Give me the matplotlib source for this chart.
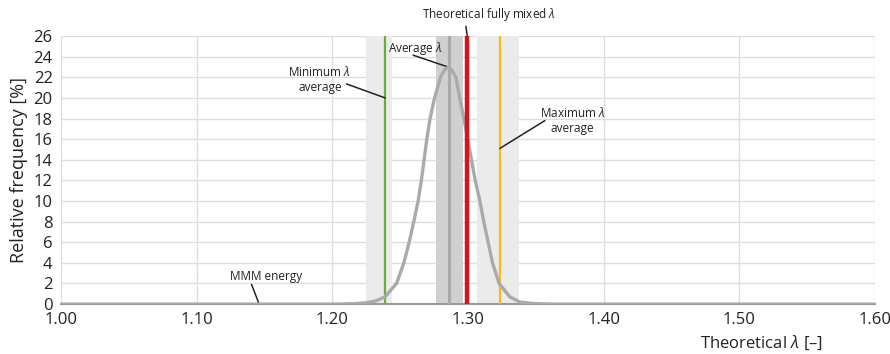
import numpy as np
import matplotlib
matplotlib.use("Agg")
import matplotlib.pyplot as plt
from matplotlib.ticker import FormatStrFormatter

plt.rcParams['font.family'] = ['Open Sans', 'DejaVu Sans']
plt.rcParams['mathtext.fontset'] = 'custom'
plt.rcParams['mathtext.rm'] = 'Open Sans'
plt.rcParams['mathtext.it'] = 'Open Sans:italic'

# distribution
lam = [1.00, 1.205, 1.218, 1.226, 1.232, 1.2388, 1.2474, 1.2528, 1.2567, 1.2601,
       1.2633, 1.2657, 1.2677, 1.2697, 1.2721, 1.2754, 1.2798, 1.2826, 1.2854,
       1.2882, 1.2911, 1.2940, 1.2970, 1.2999, 1.3026, 1.3054, 1.3088, 1.3117,
       1.3149, 1.3181, 1.3230, 1.3309, 1.3383, 1.348, 1.362, 1.60]
freq = [0, 0, 0.05, 0.15, 0.3, 0.7, 2, 4, 6, 8,
        10, 12, 14, 16, 18, 20, 22, 22.7, 23.0,
        22.7, 22, 20, 18, 16, 14, 12, 10, 8,
        6, 4, 2, 0.7, 0.2, 0.05, 0, 0]

# marker lines and bands
lam_min, band_min = 1.2390, (1.2246, 1.2440)
lam_avg, band_avg = 1.2859, (1.2768, 1.2964)
lam_mix = 1.2995
lam_max, band_max = 1.3235, (1.3070, 1.3375)

yticks = list(range(0, 27, 2))
xticks = [1.00, 1.10, 1.20, 1.30, 1.40, 1.50, 1.60]

fig = plt.figure(figsize=(8.9, 3.54), dpi=100)
ax = fig.add_axes([0.0685, 0.141, 0.9145, 0.757])

ax.axvspan(*band_min, color='#ebebeb', lw=0, zorder=1)
ax.axvspan(*band_avg, color='#d0d0d0', lw=0, zorder=1)
ax.axvspan(*band_max, color='#ebebeb', lw=0, zorder=1)

ax.axvline(lam_min, color='#6aad3d', lw=1.6, zorder=3)
ax.axvline(lam_avg, color='#a9a9a9', lw=2.2, zorder=3)
ax.axvline(lam_max, color='#f8bb12', lw=1.6, zorder=3)
ax.plot(lam, freq, color='#aaaaaa', lw=2.4, zorder=4, solid_joinstyle='round')
ax.axvline(lam_mix, color='#d7141a', lw=3.2, zorder=5)

ax.set_xlim(1.0, 1.6)
ax.set_ylim(0, 26)
ax.set_xticks(xticks)
ax.set_yticks(yticks)
ax.xaxis.set_major_formatter(FormatStrFormatter('%.2f'))
ax.tick_params(axis='both', length=0, labelsize=12, colors='#222222', pad=6)
ax.grid(True, color='#dedede', lw=1, zorder=0)
ax.set_axisbelow(True)
for s in ['top', 'right', 'left']:
    ax.spines[s].set_visible(False)
ax.spines['bottom'].set_color('#999999')
ax.spines['bottom'].set_linewidth(1.5)

ax.set_ylabel('Relative frequency [%]', fontsize=13, color='#222222', labelpad=4)
ax.set_xlabel(r'Theoretical $\lambda$ [–]', fontsize=12, color='#222222')
ax.xaxis.set_label_coords(0.861, -0.146)
ax.xaxis.label.set_verticalalignment('center')

arrow = dict(arrowstyle='-', color='#222222', lw=1.1, shrinkA=0, shrinkB=0)
ann = dict(fontsize=8.5, color='#222222', ha='center', va='center',
           annotation_clip=False)
ax.annotate(r'Theoretical fully mixed $\lambda$', xy=(1.3154, 28.05), **ann)
ax.annotate('', xy=(lam_mix, 26), xytext=(1.2985, 26.95), arrowprops=arrow, annotation_clip=False)
ax.annotate(r'Average $\lambda$', xy=(1.2611, 24.75), **ann)
ax.annotate('', xy=(lam_avg - 0.0005, 23.0), xytext=(1.2596, 24.15), arrowprops=arrow)
ax.annotate('Minimum $\\lambda$\naverage', xy=(1.1909, 21.8), **ann)
ax.annotate('', xy=(lam_min, 20.0), xytext=(1.2105, 21.36), arrowprops=arrow)
ax.annotate('Maximum $\\lambda$\naverage', xy=(1.3773, 17.85), **ann)
ax.annotate('', xy=(lam_max, 15.1), xytext=(1.3567, 17.8), arrowprops=arrow)
ax.annotate('MMM energy', xy=(1.1511, 2.65), **ann)
ax.annotate('', xy=(1.1459, 0.07), xytext=(1.1405, 1.9), arrowprops=arrow)

fig.savefig('out.png', dpi=100)
